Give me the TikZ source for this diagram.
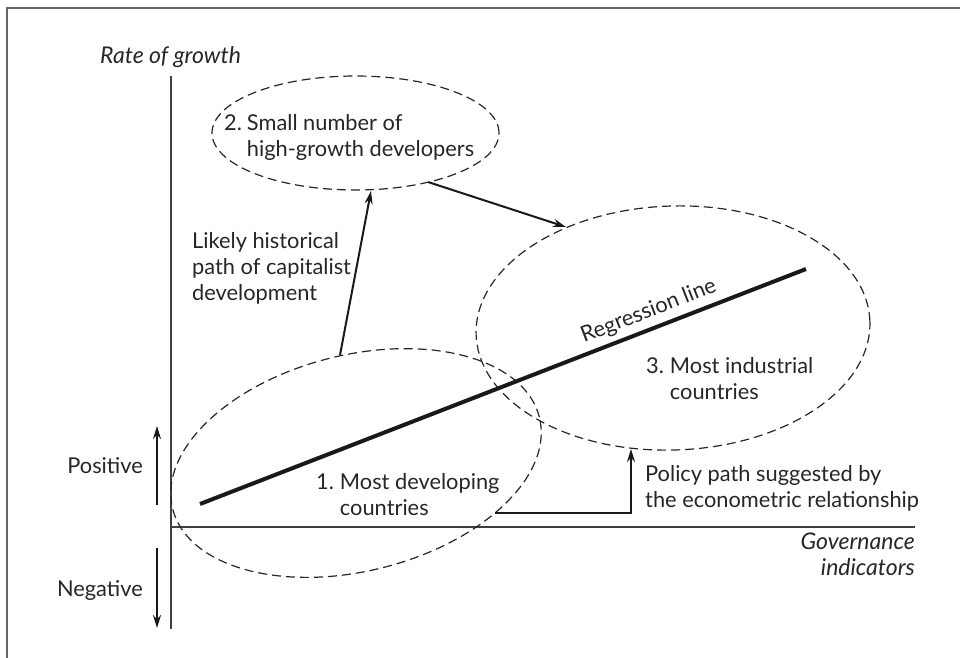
\documentclass[tikz,border=0pt]{standalone}
\usepackage{fontspec}
\setmainfont{Lato}
\usetikzlibrary{shapes.geometric,arrows.meta}
\begin{document}
\begin{tikzpicture}[x=1pt,y=1pt,
  every node/.style={font=\fontsize{21.8}{26}\selectfont, text=black!85},
  txt/.style={inner sep=0pt, align=left},
  ital/.style={font=\fontsize{23}{26}\selectfont\itshape},
  grp/.style={draw=black!85, dash pattern=on 9pt off 5pt, line width=1.2pt, ellipse, inner sep=0pt},
  axis/.style={draw=black!75, line width=1.4pt},
  arr/.style={draw=black!90, line width=2pt, -{Stealth[length=13pt,width=8pt]}},
  reg/.style={draw=black!90, line width=4pt},
  frame/.style={draw=black!60, line width=2pt}]
\useasboundingbox (0,0) rectangle (960,-657);
% frame (cropped)
\draw[frame] (7,-660) -- (7,-8) -- (963,-8);
% axes
\coordinate (ytop) at (171,-76);
\coordinate (ybot) at (171,-629);
\coordinate (xleft) at (171,-527);
\coordinate (xright) at (915,-527);
\draw[axis] (ytop) -- (ybot);
\draw[axis] (xleft) -- (xright);
% groups
\node[grp, minimum width=287pt, minimum height=114pt] (e2) at (355.5,-133) {};
\node[grp, minimum width=394pt, minimum height=244pt, rotate=2] (e3) at (673,-328) {};
\node[grp, minimum width=378pt, minimum height=216pt, rotate=14] (e1) at (356,-463) {};
% regression line
\coordinate (r1) at (200,-504);
\coordinate (r2) at (806,-269);
\draw[reg] (r1) -- (r2);
\node[txt, anchor=base west, rotate=21.2] (reglbl) at (584,-343) {Regression line};
% labels (multi-line nodes: base = last line)
\node[txt, ital, anchor=base west] (ylabel) at (100,-63) {Rate of growth};
\node[txt, ital, anchor=base east, align=right] (xlabel) at (915,-575) {Governance\\indicators};
\node[txt, anchor=base east] (pos) at (143,-473) {Positive};
\node[txt, anchor=base east] (neg) at (143,-596) {Negative};
\node[txt, anchor=base west] (t2) at (224,-130) {\begin{tabular}[t]{@{}l@{\hspace{5pt}}l@{}}2.&Small number of\\&high-growth developers\end{tabular}};
\node[txt, anchor=base west] (t1) at (316,-489) {\begin{tabular}[t]{@{}l@{\hspace{6pt}}l@{}}1.&Most developing\\&countries\end{tabular}};
\node[txt, anchor=base west] (t3) at (646,-373) {\begin{tabular}[t]{@{}l@{\hspace{6pt}}l@{}}3.&Most industrial\\&countries\end{tabular}};
\node[txt, anchor=base west] (hist) at (192,-300) {Likely historical\\path of capitalist\\development};
\node[txt, anchor=base west] (policy) at (645,-507) {Policy path suggested by\\the econometric relationship};
% sign arrows
\coordinate (p0) at (157,-505);
\coordinate (p1) at (157,-426);
\coordinate (n0) at (157,-548);
\coordinate (n1) at (157,-628);
\draw[arr] (p0) -- (p1);
\draw[arr] (n0) -- (n1);
% paths
\coordinate (h0) at (340,-355);
\coordinate (h1) at (371,-191);
\draw[arr] (h0) -- (h1);
\coordinate (a0) at (428,-182);
\coordinate (a1) at (566,-227);
\draw[arr] (a0) -- (a1);
\coordinate (q0) at (495,-513);
\coordinate (q1) at (631,-449);
\draw[arr] (q0) -| (q1);
\end{tikzpicture}
\end{document}
